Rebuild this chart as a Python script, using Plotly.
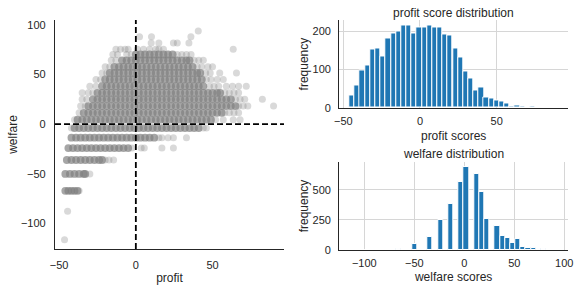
import plotly.graph_objects as go

# ---------------- data ----------------
# profit histogram (40 bins)
profit_bin_centers = [-44.3, -40.9, -37.6, -34.2, -30.8, -27.5, -24.1, -20.7, -17.3, -14.0,
                      -10.6, -7.2, -3.9, -0.5, 2.9, 6.3, 9.6, 13.0, 16.4, 19.7,
                      23.1, 26.5, 29.8, 33.2, 36.6, 40.0, 43.3, 46.7, 50.1, 53.4,
                      56.8, 60.2, 63.5, 66.9, 70.3, 73.6, 77.0, 80.4, 83.8, 87.1]
profit_counts = [33, 59, 98, 112, 153, 155, 134, 183, 196, 201,
                 215, 217, 196, 210, 210, 217, 210, 211, 193, 189,
                 155, 131, 96, 78, 46, 54, 26, 23, 19, 16,
                 10, 2, 7, 3, 1, 2, 0, 0, 1, 1]

# welfare histogram (40 bins)
welfare_bin_centers = [-112.0, -106.8, -101.6, -96.5, -91.3, -86.1, -80.9, -75.7, -70.6, -65.4,
                       -60.2, -55.0, -49.8, -44.7, -39.5, -34.3, -29.1, -23.9, -18.8, -13.6,
                       -8.4, -3.2, 2.0, 7.1, 12.3, 17.5, 22.7, 27.9, 33.0, 38.2,
                       43.4, 48.6, 53.8, 58.9, 64.1, 69.3, 74.5, 79.7, 84.8, 90.0]
welfare_counts = [1, 0, 0, 0, 0, 1, 0, 0, 0, 8,
                  0, 0, 47, 0, 0, 105, 0, 253, 0, 386,
                  0, 564, 686, 0, 631, 483, 261, 0, 197, 119,
                  97, 58, 94, 25, 17, 14, 10, 5, 2, 1]

# scatter: welfare levels (rows) with the profit values of dense and isolated points
row_welfare = [-116.6, -87.8, -67.3, -50.3, -36.2, -24.2, -13.7, -4.0, 4.5, 11.4,
               18.2, 25.0, 31.5, 38.2, 45.0, 51.6, 57.8, 64.3, 70.2, 75.6,
               81.7, 88.0, 93.8]
core_profit = [
    [],
    [],
    [-46, -44, -42, -40, -38],
    [-46, -43, -40, -37, -34, -33],
    [-45, -42, -39, -36, -33, -30, -27, -24, -22],
    [-44, -41, -38, -35, -32, -29, -26, -23, -20, -17, -14, -11, -8, -5],
    [-42, -39, -36, -33, -30, -27, -24, -21, -18, -15, -12, -9, -6, -3, 0, 3, 6, 9, 12],
    [-40, -37, -34, -31, -28, -25, -22, -19, -16, -13, -10, -7, -4, -1, 2, 5, 8, 11, 14, 17,
     20, 23, 26, 29, 32, 35, 38, 41],
    [-38, -35, -32, -29, -26, -23, -20, -17, -14, -11, -8, -5, -2, 1, 4, 7, 10, 13, 16, 19,
     22, 25, 28, 31, 34, 37, 40, 43, 46, 49],
    [-34, -31, -28, -25, -22, -19, -16, -13, -10, -7, -4, -1, 2, 5, 8, 11, 14, 17, 20, 23,
     26, 29, 32, 35, 38, 41, 44, 47, 50, 53, 56],
    [-31, -28, -25, -22, -19, -16, -13, -10, -7, -4, -1, 2, 5, 8, 11, 14, 17, 20, 23, 26,
     29, 32, 35, 38, 41, 44, 47, 50, 53, 56, 59, 62, 65],
    [-28, -25, -22, -19, -16, -13, -10, -7, -4, -1, 2, 5, 8, 11, 14, 17, 20, 23, 26, 29,
     32, 35, 38, 41, 44, 47, 50, 53, 56, 59, 62],
    [-25, -22, -19, -16, -13, -10, -7, -4, -1, 2, 5, 8, 11, 14, 17, 20, 23, 26, 29, 32,
     35, 38, 41, 44, 47, 50, 53, 55],
    [-22, -19, -16, -13, -10, -7, -4, -1, 2, 5, 8, 11, 14, 17, 20, 23, 26, 29, 32, 35,
     38, 41, 44],
    [-20, -17, -14, -11, -8, -5, -2, 1, 4, 7, 10, 13, 16, 19, 22, 25, 28, 31, 34, 37, 40, 43],
    [-17, -14, -11, -8, -5, -2, 1, 4, 7, 10, 13, 16, 19, 22, 25, 28, 31, 34, 37, 40, 42],
    [-14, -11, -8, -5, -2, 1, 4, 7, 10, 13, 16, 19, 22, 25, 28, 31, 34, 37],
    [-9, -6, -3, 0, 3, 6, 9, 12, 15, 18, 21, 24, 27, 30, 33, 35],
    [0, 3, 6, 9, 12, 15, 18, 21, 24],
    [],
    [],
    [],
    [],
]
sparse_profit = [
    [-46.5],
    [-44.5],
    [-37],
    [-30],
    [-20, -17.5, -14.5],
    [-2.5, 3.5, 5.5, 17, 24.5],
    [15, 17, 21, 24.5, 33],
    [-42, 44, 46],
    [-40, 52, 57, 63.5, 68],
    [-37, 58, 61, 64, 67],
    [-36, -33, 67, 70, 73, 89.8],
    [-35, -32, 65, 68, 71, 82.5],
    [-35, -31, -28, 58, 61, 64, 67],
    [-30, -26, 48, 51, 54, 59, 63, 67, 72],
    [-26, -23, 46, 49, 53, 57],
    [-22, -19, 45.5, 48.5, 54.7, 65.6],
    [-20, -17, 40, 43, 47, 50],
    [-16, -13, 38, 41, 44],
    [-15, -12, -6, -3, 27, 30, 33, 36],
    [-13, -10, -7, -5, 1, 5, 9, 13, 15, 18, 63.5],
    [10, 15, 24.5, 27, 34.6],
    [2.4, 10.2, 35.9],
    [40.7],
]

# ---------------- build point lists ----------------
core_x, core_y, sparse_x, sparse_y = [], [], [], []
for w, ps in zip(row_welfare, core_profit):
    core_x += ps
    core_y += [w] * len(ps)
for w, ps in zip(row_welfare, sparse_profit):
    sparse_x += ps
    sparse_y += [w] * len(ps)

FONT = "Arial, 'Liberation Sans', sans-serif"
TXT = "#262626"
BLUE = "#1f77b4"

fig = go.Figure()

fig.add_trace(go.Scatter(x=sparse_x, y=sparse_y, mode="markers", xaxis="x", yaxis="y",
                         marker=dict(color="#808080", size=7, opacity=0.3, line=dict(width=0)),
                         showlegend=False, hoverinfo="skip"))
fig.add_trace(go.Scatter(x=core_x, y=core_y, mode="markers", xaxis="x", yaxis="y",
                         marker=dict(color="#808080", size=7.8, opacity=0.7, line=dict(width=0)),
                         showlegend=False, hoverinfo="skip"))

fig.add_trace(go.Bar(x=profit_bin_centers, y=profit_counts, width=3.385, xaxis="x2", yaxis="y2",
                     marker=dict(color=BLUE, line=dict(color="white", width=1)),
                     showlegend=False))
fig.add_trace(go.Bar(x=welfare_bin_centers, y=welfare_counts, width=5.18, xaxis="x3", yaxis="y3",
                     marker=dict(color=BLUE, line=dict(color="white", width=1)),
                     showlegend=False))

# reference lines at zero
dash = dict(color="black", width=1.8, dash="6px,3px")
fig.add_shape(type="line", xref="x domain", yref="y", x0=0, x1=1, y0=0, y1=0, line=dash, layer="above")
fig.add_shape(type="line", xref="x", yref="y domain", x0=0, x1=0, y0=0, y1=1, line=dash, layer="above")

axis_common = dict(showline=True, linecolor=TXT, linewidth=1.25, zeroline=False, ticks="",
                   automargin=False,
                   tickfont=dict(size=11, color=TXT, family=FONT),
                   title_font=dict(size=12, color=TXT, family=FONT))

fig.update_layout(
    width=581, height=291,
    margin=dict(l=0, r=0, t=0, b=0),
    paper_bgcolor="white", plot_bgcolor="white",
    font=dict(family=FONT, color=TXT),
    bargap=0,
    xaxis=dict(domain=[0.0947, 0.4888], range=[-52.7, 96.6], dtick=50, showgrid=False,
               anchor="y", title=dict(text="profit", standoff=3), ticklabelstandoff=6, **axis_common),
    yaxis=dict(domain=[0.1443, 0.9313], range=[-126, 105], dtick=50, showgrid=False,
               anchor="x", title=dict(text="welfare", standoff=0), ticklabelstandoff=6, **axis_common),
    xaxis2=dict(domain=[0.5840, 0.9776], range=[-52.6, 96.5], dtick=50, showgrid=True,
                gridcolor="#d6d6d6", gridwidth=1, anchor="y2",
                title=dict(text="profit scores", standoff=5), ticklabelstandoff=3, **axis_common),
    yaxis2=dict(domain=[0.6299, 0.9296], range=[0, 229], dtick=100, showgrid=True,
                gridcolor="#d6d6d6", gridwidth=1, anchor="x2",
                title=dict(text="frequency", standoff=1), ticklabelstandoff=5, **axis_common),
    xaxis3=dict(domain=[0.5840, 0.9776], range=[-125, 103.7], dtick=50, showgrid=True,
                gridcolor="#d6d6d6", gridwidth=1, anchor="y3",
                title=dict(text="welfare scores", standoff=4), ticklabelstandoff=3, **axis_common),
    yaxis3=dict(domain=[0.1409, 0.4433], range=[0, 731], dtick=250, showgrid=True,
                gridcolor="#d6d6d6", gridwidth=1, anchor="x3",
                title=dict(text="frequency", standoff=1), ticklabelstandoff=5, **axis_common),
    annotations=[
        dict(text="profit score distribution", xref="x2 domain", yref="y2 domain", x=0.5, y=1,
             xanchor="center", yanchor="bottom", showarrow=False, yshift=-2,
             font=dict(size=12, color=TXT, family=FONT)),
        dict(text="welfare distribution", xref="x3 domain", yref="y3 domain", x=0.5, y=1,
             xanchor="center", yanchor="bottom", showarrow=False, yshift=-1,
             font=dict(size=12, color=TXT, family=FONT)),
    ],
)

fig.write_html("out.html", config={"displayModeBar": False},
               post_script="document.body.style.margin='0';")
